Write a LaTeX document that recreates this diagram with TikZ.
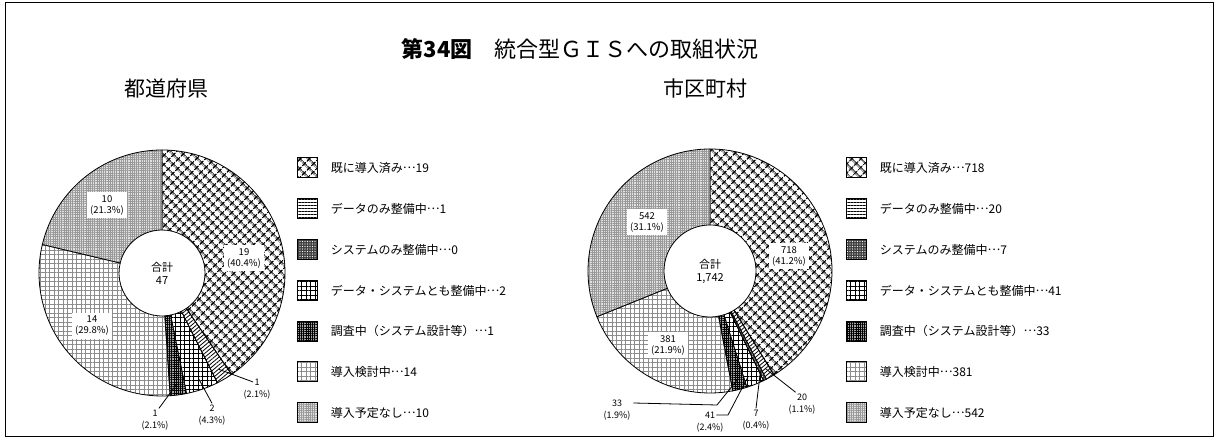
\documentclass[tikz,border=0pt]{standalone}
\usepackage{fontspec}
\setmainfont{Noto Sans CJK JP}
\usetikzlibrary{patterns.meta,positioning}

\newcommand\ringpart[6]{\path[seg,#6] ([shift={(#4:#2)}]#1) arc[start angle=#4,end angle=#5,radius=#2]
  -- ([shift={(#5:#3)}]#1) arc[start angle=#5,end angle=#4,radius=#3] -- cycle;}
\newcommand\middots{\raisebox{.33em}{…}}

\begin{document}
\begin{tikzpicture}[x=1pt,y=1pt,line width=0.8pt,
    seg/.style={draw=black},
    p_done/.style={pattern={Hatch[angle=45,distance=6.5pt,line width=1.3pt]}},
    p_data/.style={pattern={Lines[angle=0,distance=3pt,line width=0.8pt]}},
    p_datapie/.style={pattern={Lines[angle=40,distance=3pt,line width=0.8pt]}},
    p_sys/.style={preaction={fill=black!75},pattern={Dots[distance=2.5pt,radius=0.6pt]},pattern color=white},
    p_both/.style={pattern={Hatch[angle=0,distance=4.5pt,line width=0.7pt]}},
    p_survey/.style={preaction={fill=black!35},pattern={Hatch[angle=0,distance=2.2pt,line width=0.5pt]}},
    p_study/.style={pattern={Hatch[angle=0,distance=4.5pt,line width=0.5pt]},pattern color=black!45},
    p_none/.style={preaction={fill=black!12},pattern={Hatch[angle=0,distance=2.2pt,line width=0.5pt]},pattern color=black!40},
    box/.style={draw,line width=1pt,minimum size=20pt,inner sep=0pt},
    item/.style={font=\fontsize{12}{14}\selectfont,inner sep=0pt},
    val/.style={fill=white,align=center,inner sep=3pt,font=\fontsize{9.5}{11}\selectfont},
    num/.style={inner sep=1pt,font=\fontsize{9}{10}\selectfont}]

  \useasboundingbox (0,0) rectangle (1219,439);
  \draw[line width=1pt] (5,2) rectangle (1213,436);

  \node (title) at (580,390) {\fontsize{22}{26}\selectfont\textbf{第34図}　統合型ＧＩＳへの取組状況};
  \node (sub_l) at (166,350) {\fontsize{21}{24}\selectfont 都道府県};
  \node (sub_r) at (705,350) {\fontsize{21}{24}\selectfont 市区町村};

  \coordinate (c_l) at (162,166);
  \ringpart{c_l}{123}{43}{90}{-55.53}{p_done}
  \ringpart{c_l}{123}{43}{-55.53}{-63.19}{p_datapie}
  \ringpart{c_l}{123}{43}{-63.19}{-78.51}{p_both}
  \ringpart{c_l}{123}{43}{-78.51}{-86.17}{p_survey}
  \ringpart{c_l}{123}{43}{-86.17}{-193.40}{p_study}
  \ringpart{c_l}{123}{43}{-193.40}{-270}{p_none}

  \node[val] (v_l1) at (244,181) {19\\(40.4\%)};
  \node[val] (v_l6) at (92,113) {14\\(29.8\%)};
  \node[val] (v_l7) at (107,234) {10\\(21.3\%)};
  \node[align=center,font=\fontsize{11}{13}\selectfont] (tot_l) at (c_l) {合計\\47};

  \node[num] (n_l2) at (257,57) {1};
  \node[num,below=2pt of n_l2] (q_l2) {(2.1\%)};
  \node[num] (n_l4) at (212,31) {2};
  \node[num,below=2pt of n_l4] (q_l4) {(4.3\%)};
  \node[num] (n_l5) at (155,26) {1};
  \node[num,below=2pt of n_l5] (q_l5) {(2.1\%)};
  \coordinate (e_l2) at ([shift={(-59.4:112)}]c_l);
  \coordinate (e_l4) at ([shift={(-70.85:112)}]c_l);
  \coordinate (e_l5) at ([shift={(-82.34:112)}]c_l);
  \draw (e_l2) -- (n_l2.west);
  \draw (e_l4) -- (n_l4.north);
  \draw (e_l5) -- (n_l5.north east);

  \coordinate (c_r) at (710,168);
  \ringpart{c_r}{122}{46}{90}{-58.38}{p_done}
  \ringpart{c_r}{122}{46}{-58.38}{-62.51}{p_datapie}
  \ringpart{c_r}{122}{46}{-62.51}{-63.96}{p_sys}
  \ringpart{c_r}{122}{46}{-63.96}{-72.43}{p_both}
  \ringpart{c_r}{122}{46}{-72.43}{-79.25}{p_survey}
  \ringpart{c_r}{122}{46}{-79.25}{-157.99}{p_study}
  \ringpart{c_r}{122}{46}{-157.99}{-270}{p_none}

  \node[val] (v_r1) at (789,183) {718\\(41.2\%)};
  \node[val] (v_r6) at (668,94) {381\\(21.9\%)};
  \node[val] (v_r7) at (647,217) {542\\(31.1\%)};
  \node[align=center,font=\fontsize{11}{13}\selectfont] (tot_r) at (c_r) {合計\\1,742};

  \node[num] (n_r2) at (802,42) {20};
  \node[num,below=2pt of n_r2] (q_r2) {(1.1\%)};
  \node[num] (n_r3) at (756,26) {7};
  \node[num,below=2pt of n_r3] (q_r3) {(0.4\%)};
  \node[num] (n_r4) at (710,24) {41};
  \node[num,below=2pt of n_r4] (q_r4) {(2.4\%)};
  \node[num] (n_r5) at (617,36) {33};
  \node[num,below=2pt of n_r5] (q_r5) {(1.9\%)};
  \coordinate (e_r2) at ([shift={(-60.45:112)}]c_r);
  \coordinate (e_r3) at ([shift={(-63.24:112)}]c_r);
  \coordinate (e_r4) at ([shift={(-70:112)}]c_r);
  \coordinate (e_r5) at ([shift={(-75.84:112)}]c_r);
  \coordinate (k_r4) at (728,24);
  \coordinate (k_r5) at (717,34);
  \draw (e_r2) -- (n_r2.north west);
  \draw (e_r3) -- (n_r3.north);
  \draw (e_r4) -- (k_r4) -- (n_r4.east);
  \draw (e_r5) -- (k_r5) -- ([xshift=10pt]n_r5.east);

  \foreach \p/\t [count=\i] in {p_done/既に導入済み\middots 19,p_data/データのみ整備中\middots 1,
      p_sys/システムのみ整備中\middots 0,p_both/データ・システムとも整備中\middots 2,
      p_survey/調査中（システム設計等）\middots 1,p_study/導入検討中\middots 14,p_none/導入予定なし\middots 10}{
    \node[box,\p] (lb_\i) at (307,{271-40.8*(\i-1)}) {};
    \node[item,right=13pt of lb_\i] (lt_\i) {\t};
  }
  \foreach \p/\t [count=\i] in {p_done/既に導入済み\middots 718,p_data/データのみ整備中\middots 20,
      p_sys/システムのみ整備中\middots 7,p_both/データ・システムとも整備中\middots 41,
      p_survey/調査中（システム設計等）\middots 33,p_study/導入検討中\middots 381,p_none/導入予定なし\middots 542}{
    \node[box,\p] (rb_\i) at (856,{271-40.8*(\i-1)}) {};
    \node[item,right=13pt of rb_\i] (rt_\i) {\t};
  }
\end{tikzpicture}
\end{document}
